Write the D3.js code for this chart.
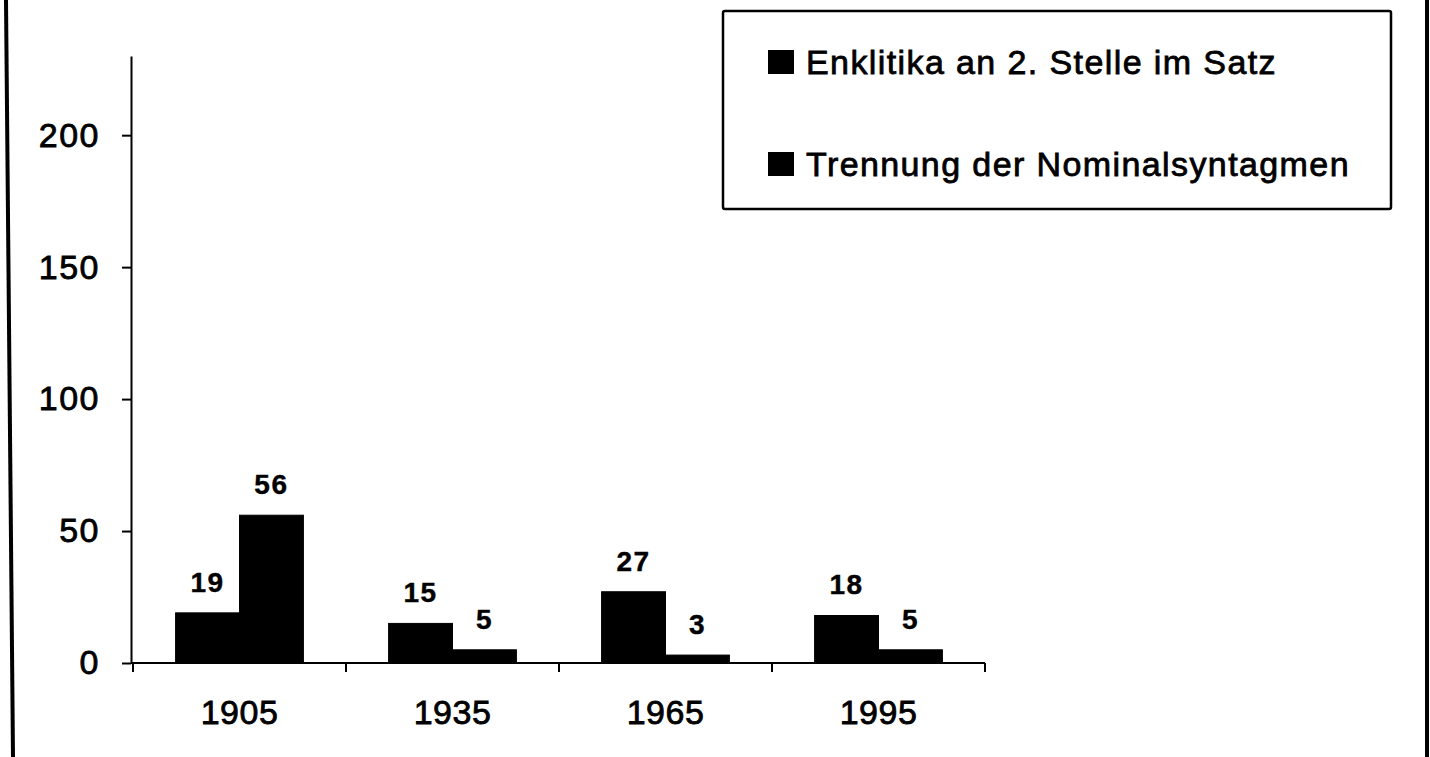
<!DOCTYPE html>
<html>
<head>
<meta charset="utf-8">
<script src="https://cdn.jsdelivr.net/npm/d3@7"></script>
<style>
  html, body { margin: 0; padding: 0; background: #fff; }
  svg { display: block; }
  text { font-family: "Liberation Sans", Arial, Helvetica, sans-serif; fill: #000; }
</style>
</head>
<body>
<svg id="chart" width="1430" height="757"></svg>
<script>
// ---- data ----
const years = ["1905", "1935", "1965", "1995"];
const seriesNames = ["Enklitika an 2. Stelle im Satz", "Trennung der Nominalsyntagmen"];
const enklitika = [19, 15, 27, 18];
const trennung = [56, 5, 3, 5];
const yTicks = [0, 50, 100, 150, 200];
const yMax = 230;

const seriesValues = [enklitika, trennung];
const table = years.map((yr, i) => ({ year: yr, values: seriesNames.map((s, j) => ({ series: s, value: seriesValues[j][i] })) }));

// ---- layout ----
const W = 1430, H = 757;
const plot = { left: 131, right: 985, top: 56, bottom: 663 };

const svg = d3.select("#chart");
svg.append("rect").attr("width", W).attr("height", H).attr("fill", "#fff");

// outer frame (scanned, slightly tilted left edge)
svg.append("line").attr("x1", 6).attr("y1", 0).attr("x2", 13).attr("y2", H)
  .attr("stroke", "#000").attr("stroke-width", 4);
svg.append("line").attr("x1", 1427).attr("y1", 0).attr("x2", 1427).attr("y2", H)
  .attr("stroke", "#000").attr("stroke-width", 4);

const y = d3.scaleLinear().domain([0, yMax]).range([plot.bottom, plot.top]);
const x = d3.scaleBand().domain(years).range([plot.left + 2, plot.right]).padding(0);
const bw = x.bandwidth();
const xs = d3.scaleBand().domain(seriesNames).range([bw * 0.2, bw * 0.8]).padding(0);

// bars
const groups = svg.append("g").selectAll("g").data(table).join("g")
  .attr("transform", d => `translate(${x(d.year)},0)`);
groups.selectAll("rect").data(d => d.values).join("rect")
  .attr("x", d => xs(d.series))
  .attr("width", xs.bandwidth())
  .attr("y", d => y(d.value))
  .attr("height", d => y(0) - y(d.value))
  .attr("fill", "#000")
  .attr("stroke", "#000")
  .attr("stroke-width", 1);
groups.selectAll("text").data(d => d.values).join("text")
  .attr("x", d => xs(d.series) + xs.bandwidth() / 2)
  .attr("y", d => y(d.value) - 21)
  .attr("text-anchor", "middle")
  .attr("font-size", 28)
  .attr("font-weight", "bold")
  .attr("letter-spacing", "1.5px")
  .attr("stroke", "#000").attr("stroke-width", 0.4)
  .text(d => d.value);

// y axis
const yAxis = svg.append("g").attr("transform", `translate(${plot.left},0)`)
  .call(d3.axisLeft(y).tickValues(yTicks).tickSize(9).tickSizeOuter(0).tickPadding(22));
yAxis.select(".domain").attr("stroke", "#000").attr("stroke-width", 2);
yAxis.selectAll(".tick line").attr("stroke", "#000").attr("stroke-width", 2);
yAxis.selectAll("text").attr("font-size", 34).attr("letter-spacing", "1.5px")
  .style("font-family", "'Liberation Sans', Arial, sans-serif").attr("fill", "#000")
  .attr("stroke", "#000").attr("stroke-width", 0.8);

// x axis
const xTickScale = d3.scaleLinear().domain([0, years.length]).range([plot.left + 2, plot.right]);
const xAxis = svg.append("g").attr("transform", `translate(0,${plot.bottom})`);
xAxis.append("line").attr("x1", plot.left).attr("x2", plot.right)
  .attr("stroke", "#000").attr("stroke-width", 2);
xAxis.selectAll("line.tk").data(d3.range(years.length + 1)).join("line")
  .attr("class", "tk")
  .attr("x1", d => xTickScale(d)).attr("x2", d => xTickScale(d))
  .attr("y1", 0).attr("y2", 9)
  .attr("stroke", "#000").attr("stroke-width", 2);
xAxis.selectAll("text").data(years).join("text")
  .attr("x", d => x(d) + bw / 2)
  .attr("y", 61)
  .attr("text-anchor", "middle")
  .attr("font-size", 34)
  .attr("letter-spacing", "0.5px")
  .attr("stroke", "#000").attr("stroke-width", 0.8)
  .text(d => d);

// legend
const lg = svg.append("g");
lg.append("rect").attr("x", 723).attr("y", 11).attr("width", 668).attr("height", 198)
  .attr("rx", 2).attr("fill", "#fff").attr("stroke", "#000").attr("stroke-width", 2.5);
const items = lg.selectAll("g.item").data(seriesNames).join("g")
  .attr("class", "item")
  .attr("transform", (d, i) => `translate(768,${50 + i * 102})`);
items.append("rect").attr("width", 26).attr("height", 24).attr("fill", "#000");
items.append("text").attr("x", 38).attr("y", 24)
  .attr("font-size", 34).attr("letter-spacing", "1.4px")
  .attr("stroke", "#000").attr("stroke-width", 0.8)
  .text(d => d);
</script>
</body>
</html>
